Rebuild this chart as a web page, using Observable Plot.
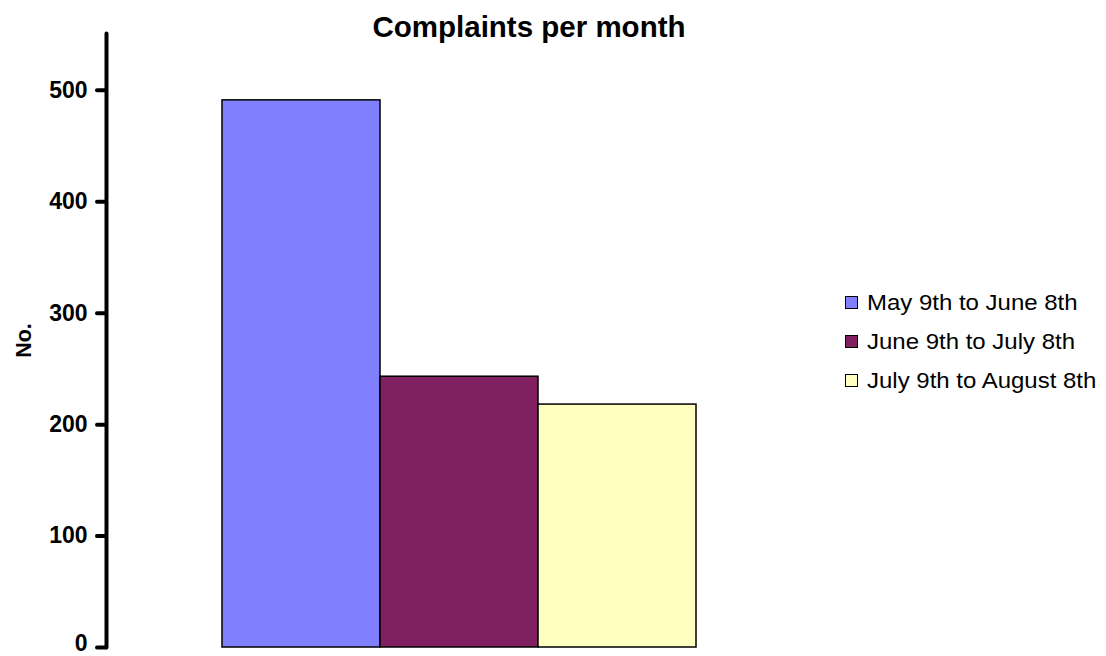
<!DOCTYPE html>
<html>
<head>
<meta charset="utf-8">
<script src="https://cdn.jsdelivr.net/npm/d3@7"></script>
<script src="https://cdn.jsdelivr.net/npm/@observablehq/plot@0.6"></script>
<style>
  html, body { margin: 0; padding: 0; background: #fff; }
  #wrap { position: relative; width: 1106px; height: 656px; font-family: "Liberation Sans", Arial, sans-serif; overflow: hidden; }
  #title { position: absolute; left: 0; width: 1058px; top: 13px; text-align: center; font-size: 29.5px; font-weight: bold; line-height: 28px; }
  #legend { position: absolute; left: 845px; top: 283px; font-size: 22px; line-height: 39px; }
  .row { display: flex; align-items: center; white-space: nowrap; }
  .sw { width: 11px; height: 11px; border: 1px solid #000; margin-right: 9px; flex: none; }
  .lt { display: inline-block; transform: scaleX(1.09); transform-origin: left center; }
</style>
</head>
<body>
<div id="wrap">
  <div id="chart"></div>
  <div id="title"></div>
  <div id="legend"></div>
</div>
<script>
const titleText = "Complaints per month";
const yLabel = "No.";
const periods = ["May 9th to June 8th", "June 9th to July 8th", "July 9th to August 8th"];
const counts = [491, 243, 218];
const colors = ["#8080FF", "#802060", "#FFFFC0"];
const yTicks = [0, 100, 200, 300, 400, 500];

const data = periods.map((p, i) => ({period: p, count: counts[i]}));
const axisStyle = {tickFormat: d3.format("d"), tickSize: 9, tickPadding: 10,
  stroke: "black", strokeWidth: 4, strokeLinecap: "round",
  fontSize: 23, fontWeight: "bold", fill: "black", label: null};

const chart = Plot.plot({
  width: 1106,
  height: 656,
  marginTop: 33,
  marginBottom: 9,
  marginLeft: 106,
  marginRight: 294,
  style: {fontFamily: "'Liberation Sans', Arial, sans-serif", background: "white", overflow: "visible"},
  x: {domain: periods, paddingInner: 0, paddingOuter: 0.734, axis: null},
  y: {domain: [0, 551], axis: null},
  color: {domain: periods, range: colors},
  marks: [
    Plot.barY(data, {x: "period", y: "count", fill: "period", stroke: "black", strokeWidth: 1.5}),
    Plot.frame({anchor: "left", stroke: "black", strokeWidth: 4, strokeLinecap: "round"}),
    Plot.axisY({...axisStyle, ticks: yTicks.slice(1)}),
    Plot.axisY({...axisStyle, ticks: yTicks.slice(0, 1), tickSize: 0, tickPadding: 19, dy: -3.5}),
    Plot.axisY({...axisStyle, ticks: yTicks.slice(0, 1), tickFormat: () => ""}),
    Plot.text([yLabel], {frameAnchor: "left", textAnchor: "middle", dx: -82, rotate: -90, fontSize: 21.5, fontWeight: "bold", fill: "black"})
  ]
});
document.getElementById("chart").appendChild(chart);
document.getElementById("title").textContent = titleText;

const legend = document.getElementById("legend");
periods.forEach((p, i) => {
  const row = document.createElement("div");
  row.className = "row";
  const sw = document.createElement("div");
  sw.className = "sw";
  sw.style.background = colors[i];
  const t = document.createElement("span");
  t.className = "lt";
  t.textContent = p;
  row.appendChild(sw);
  row.appendChild(t);
  legend.appendChild(row);
});
</script>
</body>
</html>
